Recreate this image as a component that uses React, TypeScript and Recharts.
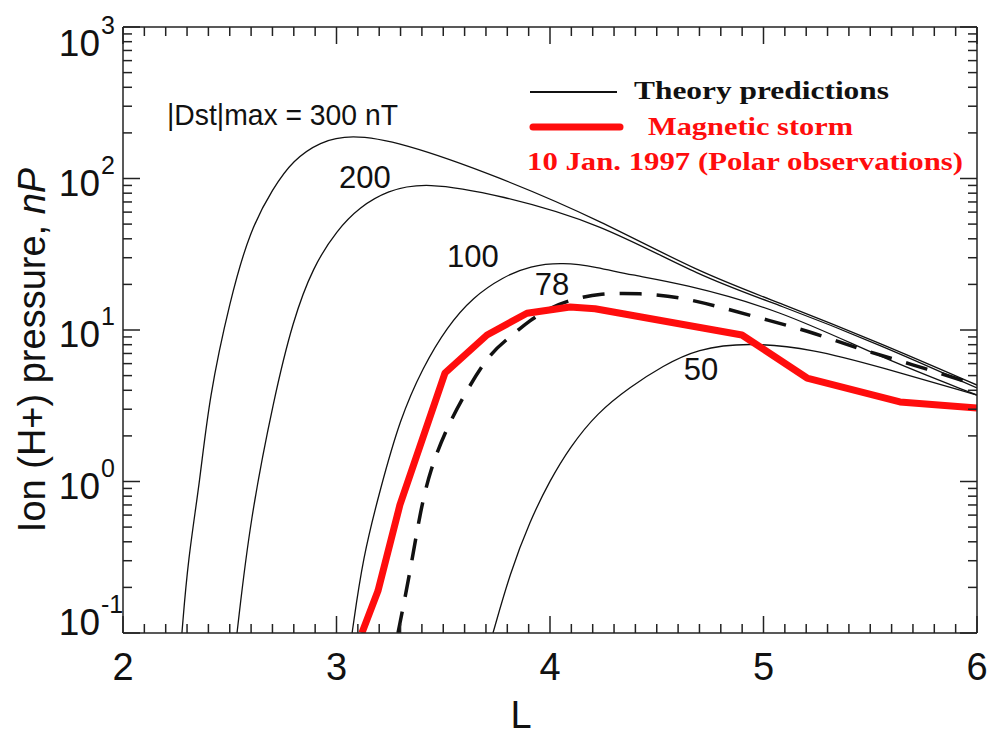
import { LineChart, Line, XAxis, YAxis, ReferenceDot } from 'recharts'

// |Dst|max = 300 nT theory curve
const dst300L = [2.276, 2.304, 2.361, 2.403, 2.501, 2.595, 2.703, 2.796, 2.923, 3.063, 3.297, 3.766, 4.234, 4.703, 5.077, 5.546, 6.0]
const dst300P = [0.1, 0.303, 1.02, 3.56, 15.8, 45.7, 86.5, 132, 175, 195, 175, 102, 53, 23.8, 15.1, 8.2, 4.33]

// 200 nT
const dst200L = [2.534, 2.595, 2.707, 2.796, 2.89, 3.002, 3.11, 3.237, 3.415, 3.766, 4.234, 4.703, 5.077, 5.546, 6.0]
const dst200P = [0.1, 0.557, 3.56, 11.6, 26.1, 45.7, 64.9, 83, 95, 77.8, 50.8, 22.4, 14.6, 8.0, 4.14]

// 100 nT
const dst100L = [3.073, 3.124, 3.204, 3.297, 3.405, 3.518, 3.639, 3.78, 3.906, 4.061, 4.22, 4.375, 4.609, 5.077, 5.546, 6.0]
const dst100P = [0.1, 0.318, 0.879, 2.59, 5.7, 10.5, 16.5, 22.4, 26.5, 28, 26, 23.1, 20.4, 13.6, 6.6, 3.72]

// 78 nT (dashed)
const dst78L = [3.288, 3.344, 3.391, 3.438, 3.518, 3.611, 3.719, 3.813, 3.906, 4.0, 4.094, 4.234, 4.422, 4.609, 4.796, 5.021, 5.241, 5.461, 5.677, 6.0]
const dst78P = [0.1, 0.249, 0.62, 1.19, 2.29, 4.02, 7.05, 9.0, 11.6, 14.0, 15.8, 17.5, 17.5, 16.5, 14.2, 11.6, 9.55, 7.38, 6.05, 4.33]

// 50 nT
const dst50L = [3.733, 3.813, 3.906, 4.0, 4.094, 4.22, 4.375, 4.529, 4.689, 4.923, 5.232, 5.546, 6.0]
const dst50P = [0.1, 0.249, 0.55, 1.02, 1.69, 2.83, 4.21, 5.8, 7.5, 8.3, 7.5, 5.7, 3.72]

// Polar observations, storm of 10 Jan 1997
const stormL = [3.119, 3.194, 3.297, 3.508, 3.705, 3.892, 4.094, 4.211, 4.899, 5.204, 5.639, 6.0]
const stormP = [0.1, 0.189, 0.7, 5.2, 9.27, 12.9, 14.2, 13.8, 9.27, 4.82, 3.35, 3.05]

const xTicks = Array.from({ length: 41 }, (_, i) => +(2 + i * 0.1).toFixed(1))
const decades = [0.1, 1, 10, 100, 1000]
const yTicks = [
  ...decades,
  ...[0.1, 1, 10, 100].flatMap((d) => [2, 3, 4, 5, 6, 7, 8, 9].map((m) => +(d * m).toPrecision(3))),
]

const zip = (ls: number[], ps: number[]) => ls.map((L, i) => ({ L, P: ps[i] }))

const AXIS = '#222'
const RED = '#ff0d0d'
const SANS = '"Liberation Sans", Arial, sans-serif'
const SERIF = '"Liberation Serif", "Times New Roman", serif'

const isMajorX = (v: number) => Math.abs(v - Math.round(v)) < 1e-6
const isMajorY = (v: number) => {
  const l = Math.log10(v)
  return Math.abs(l - Math.round(l)) < 1e-6
}

function BottomTick({ x, y, payload }: any) {
  const major = isMajorX(payload.value)
  return (
    <g>
      <line x1={x} x2={x} y1={y} y2={y - (major ? 17 : 9)} stroke={AXIS} strokeWidth={1.5} />
      {major && (
        <text x={x} y={y + 47} textAnchor="middle" fontSize={38} fontFamily={SANS} fill="#111">
          {Math.round(payload.value)}
        </text>
      )}
    </g>
  )
}

function TopTick({ x, y, payload }: any) {
  const major = isMajorX(payload.value)
  return <line x1={x} x2={x} y1={y} y2={y + (major ? 17 : 9)} stroke={AXIS} strokeWidth={1.5} />
}

function LeftTick({ x, y, payload }: any) {
  const v = payload.value
  const major = isMajorY(v)
  const exp = Math.round(Math.log10(v))
  const shift = exp === 3 ? 12 : exp === -1 ? -15 : 0
  return (
    <g>
      <line x1={x} x2={x + (major ? 17 : 9)} y1={y} y2={y} stroke={AXIS} strokeWidth={1.5} />
      {major && (
        <g fontFamily={SANS} fill="#111">
          <text x={x - 23} y={y + 17 + shift} textAnchor="end" fontSize={37}>10</text>
          <text x={x - 22} y={y - 5 + shift} fontSize={25}>{exp}</text>
        </g>
      )}
    </g>
  )
}

function RightTick({ x, y, payload }: any) {
  const major = isMajorY(payload.value)
  return <line x1={x} x2={x - (major ? 17 : 9)} y1={y} y2={y} stroke={AXIS} strokeWidth={1.5} />
}

function XTitle() {
  return (
    <text x={521} y={728} textAnchor="middle" fontSize={38} fontFamily={SANS} fill="#111">L</text>
  )
}

function YTitle() {
  return (
    <text
      transform="translate(45,350) rotate(-90)"
      textAnchor="middle"
      fontSize={38}
      fontFamily={SANS}
      fill="#111"
    >
      Ion (H+) pressure, <tspan fontStyle="italic">nP</tspan>
    </text>
  )
}

const annot = (text: string, anchor: 'start' | 'middle', size: number, width?: number) =>
  function Annot({ cx, cy }: any) {
    return (
      <text
        x={cx}
        y={cy}
        textAnchor={anchor}
        fontSize={size}
        fontFamily={SANS}
        fill="#111"
        textLength={width}
        lengthAdjust={width ? 'spacingAndGlyphs' : undefined}
      >
        {text}
      </text>
    )
  }

function LegendOverlay() {
  return (
    <svg
      width={988}
      height={735}
      style={{ position: 'absolute', left: 0, top: 0, pointerEvents: 'none' }}
    >
      <line x1={530} x2={617} y1={92} y2={92} stroke="#111" strokeWidth={2} />
      <text x={634} y={99} fontSize={26} fontWeight="bold" fontFamily={SERIF} fill="#111" textLength={255} lengthAdjust="spacingAndGlyphs">
        Theory predictions
      </text>
      <line x1={533} x2={620} y1={127} y2={127} stroke={RED} strokeWidth={7} strokeLinecap="round" />
      <text x={648} y={135} fontSize={26} fontWeight="bold" fontFamily={SERIF} fill={RED} textLength={205} lengthAdjust="spacingAndGlyphs">
        Magnetic storm
      </text>
      <text x={527} y={170} fontSize={26} fontWeight="bold" fontFamily={SERIF} fill={RED} textLength={436} lengthAdjust="spacingAndGlyphs">
        10 Jan. 1997 (Polar observations)
      </text>
    </svg>
  )
}

export default function App() {
  const theory = [
    { key: 'd300', data: zip(dst300L, dst300P) },
    { key: 'd200', data: zip(dst200L, dst200P) },
    { key: 'd100', data: zip(dst100L, dst100P) },
    { key: 'd50', data: zip(dst50L, dst50P) },
  ]
  return (
    <div style={{ position: 'absolute', left: 0, top: 0, width: 988, height: 735, background: '#fff' }}>
      <LineChart width={988} height={735} margin={{ top: 26, right: 0, bottom: 0, left: 0 }}>
        <XAxis
          dataKey="L"
          type="number"
          domain={[2, 6]}
          ticks={xTicks}
          interval={0}
          allowDataOverflow
          height={102}
          tickSize={0}
          tickMargin={0}
          tickLine={false}
          axisLine={{ stroke: AXIS, strokeWidth: 1.5 }}
          tick={<BottomTick />}
          label={<XTitle />}
        />
        <XAxis
          xAxisId="top"
          orientation="top"
          dataKey="L"
          type="number"
          domain={[2, 6]}
          ticks={xTicks}
          interval={0}
          allowDataOverflow
          height={1}
          tickSize={0}
          tickMargin={0}
          tickLine={false}
          axisLine={{ stroke: AXIS, strokeWidth: 1.5 }}
          tick={<TopTick />}
        />
        <YAxis
          type="number"
          scale="log"
          domain={[0.1, 1000]}
          ticks={yTicks}
          interval={0}
          allowDataOverflow
          width={123}
          tickSize={0}
          tickMargin={0}
          tickLine={false}
          axisLine={{ stroke: AXIS, strokeWidth: 1.5 }}
          tick={<LeftTick />}
          label={<YTitle />}
        />
        <YAxis
          yAxisId="right"
          orientation="right"
          type="number"
          scale="log"
          domain={[0.1, 1000]}
          ticks={yTicks}
          interval={0}
          allowDataOverflow
          width={11}
          tickSize={0}
          tickMargin={0}
          tickLine={false}
          axisLine={{ stroke: AXIS, strokeWidth: 1.5 }}
          tick={<RightTick />}
        />
        {theory.map((c) => (
          <Line
            key={c.key}
            data={c.data}
            dataKey="P"
            type="basis"
            stroke="#111"
            strokeWidth={1.3}
            dot={false}
            isAnimationActive={false}
          />
        ))}
        <Line
          data={zip(dst78L, dst78P)}
          dataKey="P"
          type="basis"
          stroke="#111"
          strokeWidth={3.5}
          strokeDasharray="22 15"
          dot={false}
          isAnimationActive={false}
        />
        <Line
          data={zip(stormL, stormP)}
          dataKey="P"
          type="linear"
          stroke={RED}
          strokeWidth={7}
          strokeLinejoin="round"
          dot={false}
          isAnimationActive={false}
        />
        <ReferenceDot x={2.206} y={225} r={0} shape={annot('|Dst|max = 300 nT', 'start', 29, 231)} />
        <ReferenceDot x={3.133} y={86.5} r={0} shape={annot('200', 'middle', 31)} />
        <ReferenceDot x={3.639} y={26.1} r={0} shape={annot('100', 'middle', 31)} />
        <ReferenceDot x={4.009} y={17.0} r={0} shape={annot('78', 'middle', 31)} />
        <ReferenceDot x={4.707} y={4.68} r={0} shape={annot('50', 'middle', 31)} />
      </LineChart>
      <LegendOverlay />
    </div>
  )
}
